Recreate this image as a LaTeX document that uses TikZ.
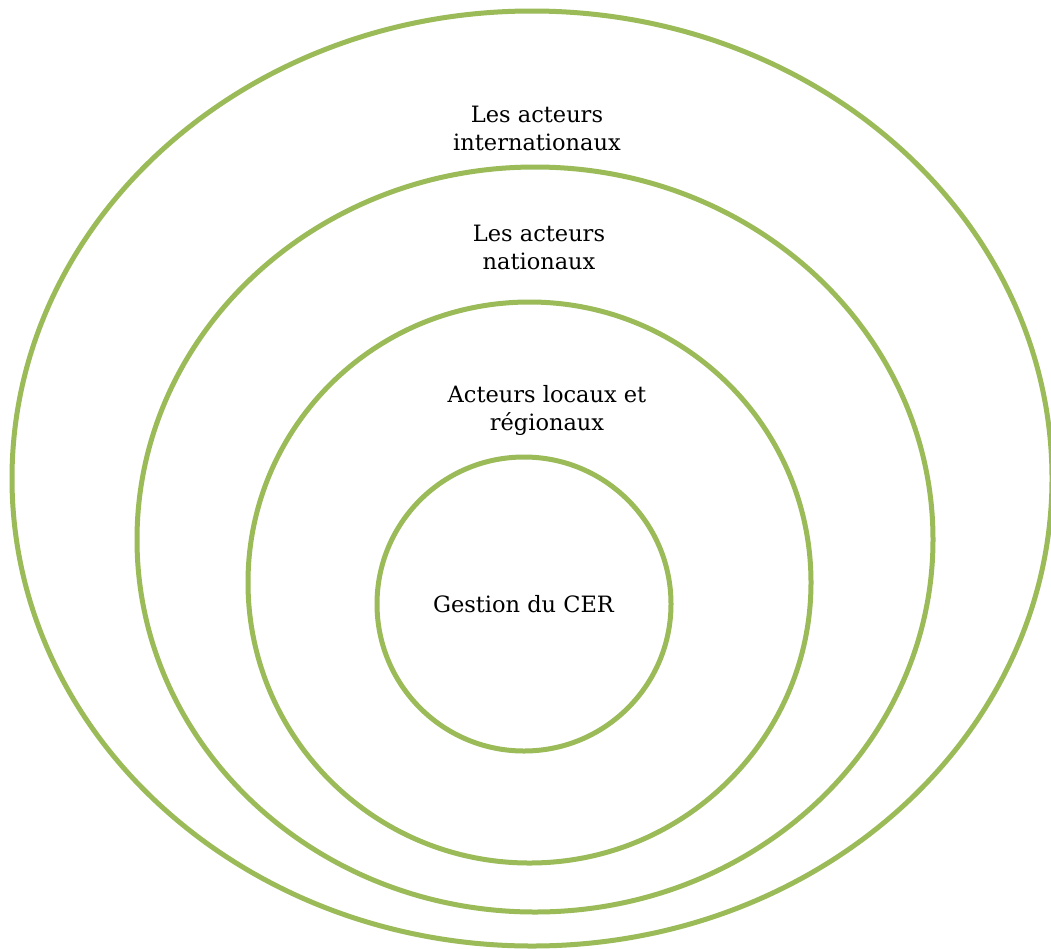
\documentclass[tikz,border=0pt]{standalone}
\usepackage{fontspec}
\setmainfont{DejaVu Serif}
\definecolor{ringgreen}{HTML}{9BBB59}
\tikzset{
  ring/.style={draw=ringgreen, line width=5pt},
  lbl/.style={align=center, font=\fontsize{22.5pt}{28pt}\selectfont, inner sep=0pt, text=black}
}
\begin{document}
\begin{tikzpicture}
\useasboundingbox (0pt,0pt) rectangle (1051pt,-948pt);
\fill[white] (0pt,0pt) rectangle (1051pt,-948pt);
\draw[ring] (532pt,-478.5pt) ellipse [x radius=520pt, y radius=467.5pt];
\draw[ring] (535pt,-539.5pt) ellipse [x radius=398pt, y radius=372.5pt];
\draw[ring] (529.5pt,-582.5pt) ellipse [x radius=281.5pt, y radius=280.5pt];
\draw[ring] (524pt,-604pt) circle [radius=147pt];
\node[lbl] (intl) at (537pt,-128pt) {Les acteurs\\internationaux};
\node[lbl] (natl) at (539pt,-247pt) {Les acteurs\\nationaux};
\node[lbl] (locl) at (547pt,-410pt) {Acteurs locaux et\\régionaux};
\node[lbl] (cer) at (523.5pt,-604pt) {Gestion du CER};
\end{tikzpicture}
\end{document}
